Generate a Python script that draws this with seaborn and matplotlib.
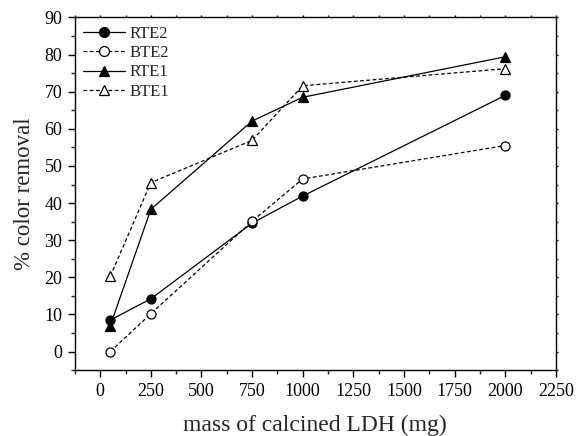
import matplotlib
matplotlib.use("Agg")
import matplotlib.pyplot as plt
import seaborn as sns
import pandas as pd
from matplotlib.ticker import MultipleLocator

mass = [50, 250, 750, 1000, 2000]
rte2 = [8.5, 14.2, 34.6, 41.9, 69.0]
bte2 = [0.0, 10.2, 35.1, 46.5, 55.5]
rte1 = [7.0, 38.3, 62.1, 68.5, 79.4]
bte1 = [20.3, 45.5, 56.9, 71.6, 76.2]

series_names = ["RTE2", "BTE2", "RTE1", "BTE1"]
series_vals = [rte2, bte2, rte1, bte1]

rows = []
for name, vals in zip(series_names, series_vals):
    for m, v in zip(mass, vals):
        rows.append({"mass": m, "removal": v, "series": name})
df = pd.DataFrame(rows)

sns.set_theme(style="ticks")
plt.rcParams['font.family'] = ['Liberation Serif', 'DejaVu Serif']
plt.rcParams['mathtext.fontset'] = 'stix'

fig = plt.figure(figsize=(5.76, 4.36), dpi=100)
ax = fig.add_axes([0.130, 0.151, 0.835, 0.809])

styles = {
    "RTE2": dict(marker="o", ls="-", mfc="black"),
    "BTE2": dict(marker="o", ls=(0, (3, 2)), mfc="white"),
    "RTE1": dict(marker="^", ls="-", mfc="black"),
    "BTE1": dict(marker="^", ls=(0, (3, 2)), mfc="white"),
}

for name in series_names:
    sub = df[df["series"] == name]
    st = styles[name]
    sns.lineplot(data=sub, x="mass", y="removal", ax=ax, color="black",
                 linewidth=0.9, linestyle=st["ls"], marker=st["marker"],
                 markersize=6.5, markerfacecolor=st["mfc"],
                 markeredgecolor="black", markeredgewidth=0.9,
                 label=name, zorder=3)

ax.set_xlim(-125, 2250)
ax.set_ylim(-5, 90)
ax.xaxis.set_major_locator(MultipleLocator(250))
ax.xaxis.set_minor_locator(MultipleLocator(125))
ax.yaxis.set_major_locator(MultipleLocator(10))
ax.yaxis.set_minor_locator(MultipleLocator(5))

for sp in ax.spines.values():
    sp.set_visible(True)
    sp.set_color("black")
    sp.set_linewidth(1.0)

ax.tick_params(axis="both", which="major", direction="out", length=5,
               width=1.0, labelsize=13, colors="black", pad=4,
               top=True, right=True)
ax.tick_params(axis="both", which="minor", direction="out", length=3,
               width=1.0, top=True, right=True)
ax.tick_params(axis="both", which="both", labeltop=False, labelright=False)
for t in ax.xaxis.get_major_ticks() + ax.xaxis.get_minor_ticks():
    t.tick2line.set_markersize(1.5)
for t in ax.yaxis.get_major_ticks() + ax.yaxis.get_minor_ticks():
    t.tick2line.set_markersize(1.5)

ax.set_xlabel("mass of calcined LDH (mg)", fontsize=17, labelpad=11)
ax.set_ylabel("% color removal", fontsize=16.5, labelpad=7)

leg = ax.legend(loc="upper left", frameon=False, fontsize=12,
                handlelength=2.5, handletextpad=0.3, labelspacing=0.2,
                borderaxespad=0.15, borderpad=0.35, markerscale=1.1)

fig.savefig("out.png", dpi=100)
